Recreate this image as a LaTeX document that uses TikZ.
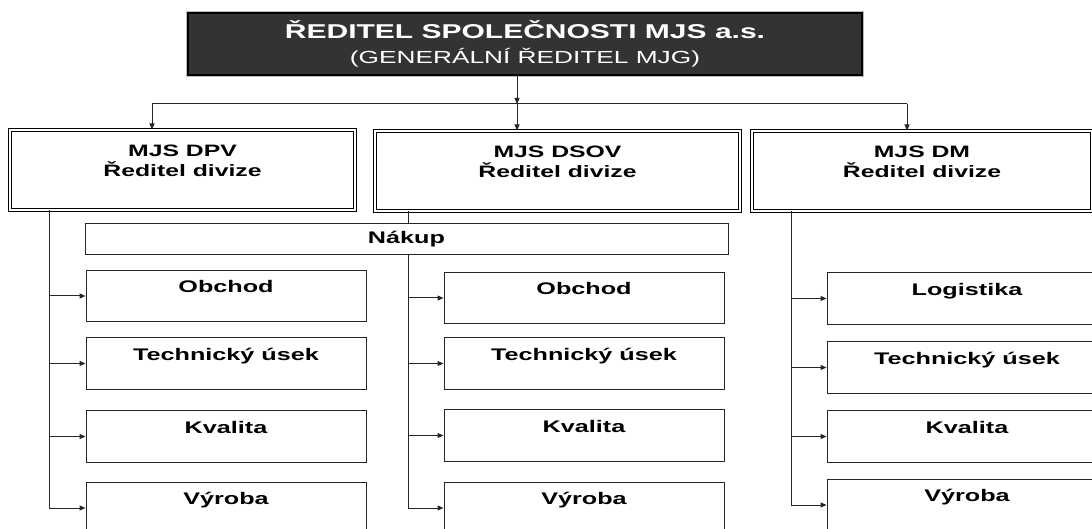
\documentclass[tikz,border=0pt]{standalone}
\usepackage{fontspec}
\setmainfont{Liberation Sans}[FakeStretch=1.5]
\usetikzlibrary{arrows.meta}

\definecolor{headgray}{RGB}{51,51,51}

\tikzset{
  conn/.style={black!85, line width=1pt},
  arr/.style={conn, -{Triangle[length=6pt,width=5pt]}},
  headbox/.style={fill=headgray, draw=black, line width=1.5pt,
    preaction={draw=gray!55, line width=4.5pt},
    text=white, minimum width=674pt, minimum height=62pt,
    align=center, font=\fontsize{20}{25}\selectfont},
  divbox/.style={draw=black, double, double distance=1.5pt, line width=1pt,
    fill=white, align=center, inner ysep=0pt, text height=47pt, text depth=33pt,
    font=\bfseries\fontsize{16.5}{20}\selectfont},
  unitbox/.style={draw=black!85, line width=1pt, fill=white,
    minimum width=280pt, inner ysep=0pt, text height=22.5pt, text depth=29pt,
    font=\bfseries\fontsize{16.8}{20}\selectfont},
  nakupbox/.style={draw=black!85, line width=1pt, fill=white,
    minimum width=643pt, minimum height=31pt,
    font=\bfseries\fontsize{16.8}{20}\selectfont}
}

\begin{document}
\begin{tikzpicture}[x=1pt, y=-1pt]

  \useasboundingbox (0,0) rectangle (1092,529);

  % --- Vedeni ---
  \node[headbox] (ceo) at (525,44)
    {\bfseries ŘEDITEL SPOLEČNOSTI MJS a.s.\\
     {\fontsize{17.5}{25}\selectfont (GENERÁLNÍ ŘEDITEL MJG)}};

  % --- Divize ---
  \node[divbox, minimum width=345pt] (dpv)  at (182.5,170) {MJS DPV\\Ředitel divize};
  \node[divbox, minimum width=365pt] (dsov) at (557.5,171) {MJS DSOV\\Ředitel divize};
  \node[divbox, minimum width=340pt] (dm)   at (922,171)   {MJS DM\\Ředitel divize};

  % --- Useky DPV ---
  \node[unitbox] (obL) at (226,296)   {Obchod};
  \node[unitbox] (teL) at (226,363.5) {Technický úsek};
  \node[unitbox] (kvL) at (226,436.5) {Kvalita};
  \node[unitbox] (vyL) at (226,508)   {Výroba};

  % --- Useky DSOV ---
  \node[unitbox] (obM) at (584,298)   {Obchod};
  \node[unitbox] (teM) at (584,363.5) {Technický úsek};
  \node[unitbox] (kvM) at (584,435.5) {Kvalita};
  \node[unitbox] (vyM) at (584,508)   {Výroba};

  % --- Useky DM ---
  \node[unitbox] (loR) at (967,298.5) {Logistika};
  \node[unitbox] (teR) at (967,367.5) {Technický úsek};
  \node[unitbox] (kvR) at (967,436.5) {Kvalita};
  \node[unitbox] (vyR) at (967,505)   {Výroba};

  % --- Sbernice pod reditelem ---
  \coordinate (busL) at (152,104);
  \coordinate (busM) at (517,104);
  \coordinate (busR) at (907,104);
  \draw[conn] (busL) -- (busR);
  \draw[arr] (busM |- ceo.south) -- (busM);
  \draw[arr] (busL) -- (busL |- dpv.north);
  \draw[arr] (busM) -- (busM |- dsov.north);
  \draw[arr] (busR) -- (busR |- dm.north);

  % --- Svisle vetve ---
  \coordinate (trL) at (49,0);
  \coordinate (trM) at (408,0);
  \coordinate (trR) at (791,0);
  \draw[conn] (trL |- dpv.south)  -- (trL |- vyL.west);
  \draw[conn] (trM |- dsov.south) -- (trM |- vyM.west);
  \draw[conn] (trR |- dm.south)   -- (trR |- vyR.west);

  \draw[arr] (trL |- obL.west) -- (obL.west);
  \draw[arr] (trL |- teL.west) -- (teL.west);
  \draw[arr] (trL |- kvL.west) -- (kvL.west);
  \draw[arr] (trL |- vyL.west) -- (vyL.west);

  \draw[arr] (trM |- obM.west) -- (obM.west);
  \draw[arr] (trM |- teM.west) -- (teM.west);
  \draw[arr] (trM |- kvM.west) -- (kvM.west);
  \draw[arr] (trM |- vyM.west) -- (vyM.west);

  \draw[arr] (trR |- loR.west) -- (loR.west);
  \draw[arr] (trR |- teR.west) -- (teR.west);
  \draw[arr] (trR |- kvR.west) -- (kvR.west);
  \draw[arr] (trR |- vyR.west) -- (vyR.west);

  % --- Nakup (prekryva vetev DSOV) ---
  \node[nakupbox] (nakup) at (406.5,239.5) {Nákup};

\end{tikzpicture}
\end{document}
